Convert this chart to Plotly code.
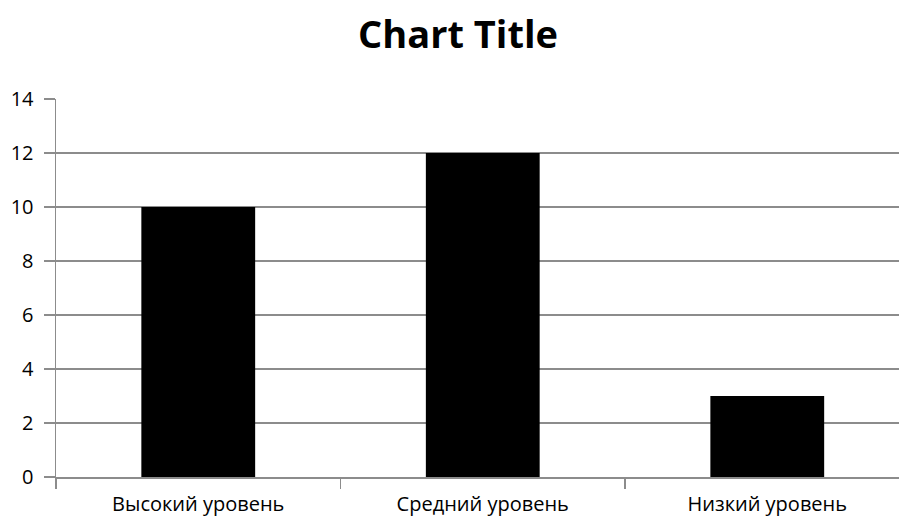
import plotly.graph_objects as go

categories = ["Высокий уровень", "Средний уровень", "Низкий уровень"]
values = [10, 12, 3]
y_ticks = [0, 2, 4, 6, 8, 10, 12, 14]

W, H = 899, 519
grid = "#8c8c8c"
font = "Open Sans"

fig = go.Figure(go.Bar(x=categories, y=values, marker=dict(color="black", line=dict(width=0))))

fig.update_layout(
    width=W, height=H,
    margin=dict(l=56, r=0, t=99, b=42),
    paper_bgcolor="white", plot_bgcolor="white",
    bargap=0.6,
    showlegend=False,
    font=dict(family=font, color="black", size=20),
    title=dict(text="<b>Chart Title</b>", font=dict(family=font, size=38, color="black"),
               x=458 / W, xref="container", xanchor="center",
               y=1 - 35 / H, yref="container", yanchor="middle"),
)
fig.update_xaxes(
    type="category", range=[-0.5, 2.463],
    showgrid=False, showline=True, linecolor=grid, linewidth=1.5,
    ticks="outside", tickson="boundaries", ticklen=10, tickcolor=grid, tickwidth=1.5,
    ticklabelstandoff=8,
    tickfont=dict(family=font, size=20, color="black"),
)
fig.update_yaxes(
    range=[0, 14], tickvals=y_ticks,
    showgrid=True, gridcolor=grid, gridwidth=1.5,
    showline=True, linecolor=grid, linewidth=1.5,
    ticks="outside", ticklen=11, tickcolor=grid, tickwidth=1.5,
    zeroline=False, ticklabelstandoff=6,
    tickfont=dict(family=font, size=20, color="black"),
)

fig.write_html(
    "out.html",
    config={"displayModeBar": False, "staticPlot": True},
    post_script="document.body.style.margin='0';document.body.style.overflow='hidden';",
)
